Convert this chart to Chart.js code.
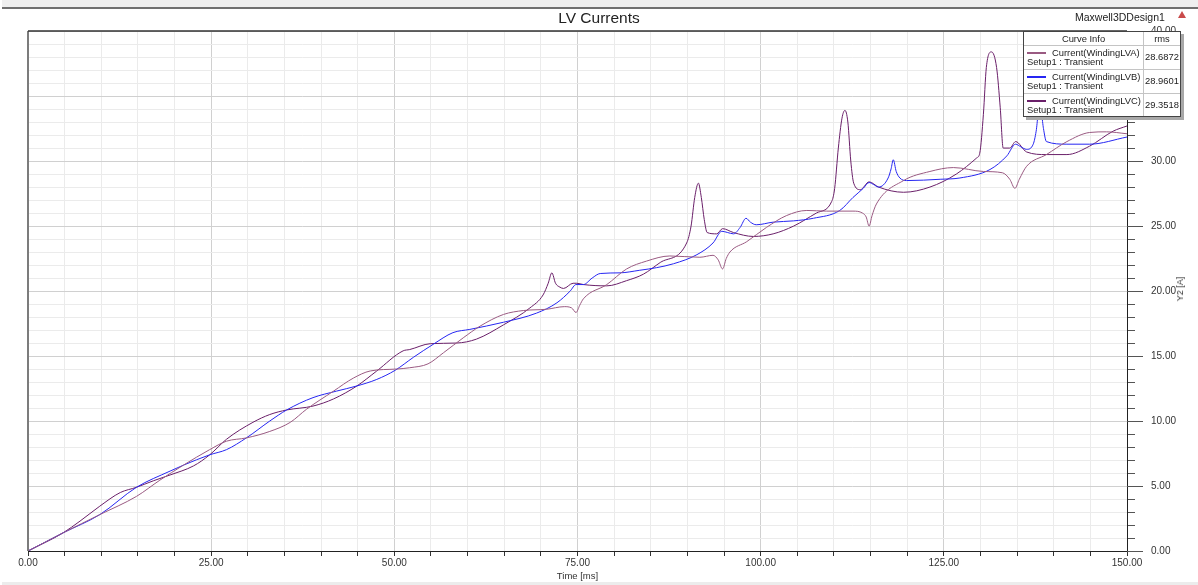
<!DOCTYPE html>
<html>
<head>
<meta charset="utf-8">
<title>LV Currents</title>
<script src="https://cdn.jsdelivr.net/npm/chart.js@4.4.1/dist/chart.umd.min.js"></script>
<style>
  body { margin: 0; background: #fff; font-family: "Liberation Sans", Arial, sans-serif; }
  #wrap { position: relative; width: 1198px; height: 585px; overflow: hidden; }
  #topbar { position: absolute; left: 2px; top: 0; width: 1196px; height: 7px; background: #efefef; border-bottom: 2px solid #707070; }
  #botbar { position: absolute; left: 2px; top: 582px; width: 1196px; height: 3px; background: #ececec; }
  #design { position: absolute; left: 1075px; top: 11px; font-size: 10.5px; line-height: 13px; color: #222; white-space: nowrap; }
  #tri { position: absolute; left: 1178px; top: 11px; width: 0; height: 0;
         border-left: 4px solid transparent; border-right: 4px solid transparent; border-bottom: 7px solid #c94a4a; }
  #ytitle { position: absolute; left: 1180px; top: 289px; font-size: 9px; color: #333; white-space: nowrap;
            transform: translate(-50%, -50%) rotate(-90deg); }
  #legend { position: absolute; left: 1023px; top: 31px; width: 158px; height: 86px; box-sizing: border-box;
            background: #fff; border: 1px solid #444; box-shadow: 3px 3px 0 #a8a8a8; font-size: 9.4px; color: #222; }
  #legend div { position: absolute; white-space: nowrap; }
  .hdr { top: 0; height: 13px; line-height: 13px; text-align: center; }
  .hline { left: 0; width: 156px; height: 1px; background: #c4c4c4; }
  .vline { left: 119px; top: 0; width: 1px; height: 84px; background: #c4c4c4; }
</style>
</head>
<body>
<div id="wrap">
  <canvas id="plot" width="1198" height="585"></canvas>
  <div id="topbar"></div>
  <div id="botbar"></div>
  <div id="design">Maxwell3DDesign1</div>
  <div id="tri"></div>
  <div id="ytitle">Y2 [A]</div>
  <div id="legend"></div>
</div>
<script>
const FONT = '"Liberation Sans", Arial, sans-serif';

// series names, colours and rms values shown in the curve info box
const seriesNames = ['Current(WindingLVA)', 'Current(WindingLVB)', 'Current(WindingLVC)'];
const seriesSetup = 'Setup1 : Transient';
const rmsValues = ['28.6872', '28.9601', '29.3518'];
const seriesColors = ['#9a5a82', '#2626f2', '#6a1f69'];

// time [ms] and current [A], one pair per winding
const timeA = [0, 4.8, 9.8, 14.8, 18.0, 21.2, 24.8, 27.1, 29.8, 33.0, 35.8, 38.0, 41.7, 44.4, 46.7, 50.3, 52.1, 54.6,
  56.7, 59.4, 61.7, 64.9, 67.6, 70.8, 73.2, 74.2, 74.8, 75.3, 75.8, 79.0, 81.7, 84.4, 87.6, 91.7, 93.5, 94.2, 94.8,
  95.3, 95.8, 98.1, 100.8, 103.5, 106.3, 109.0, 112.6, 113.9, 114.4, 114.8, 115.2, 115.8, 119.5, 123.1, 126.3,
  130.4, 133.0, 134.0, 134.7, 135.3, 136.3, 139.0, 141.8, 144.9, 147.2, 150];
const currentA = [0, 1.4, 2.8, 4.2, 5.45, 6.6, 7.8, 8.45, 8.7, 9.2, 9.9, 10.9, 12.3, 13.3, 13.85, 14.0, 14.1, 14.4,
  15.25, 16.4, 17.3, 18.2, 18.5, 18.6, 18.8, 18.7, 18.35, 18.9, 19.4, 20.5, 21.7, 22.3, 22.7, 22.6, 22.75, 22.4, 21.7,
  22.5, 23.0, 23.8, 24.9, 25.8, 26.2, 26.15, 26.15, 26.0, 25.7, 25.0, 25.8, 26.7, 28.5, 29.2, 29.5,
  29.2, 29.1, 28.6, 27.9, 28.6, 29.6, 30.5, 31.5, 32.2, 32.25, 32.1];

const timeB = [0, 4.8, 9.8, 14.8, 19.4, 21.2, 24.8, 27.1, 29.8, 33.0, 35.3, 38.9, 42.1, 44.9, 47.6, 50.1, 52.6, 55.3,
  58.0, 60.3, 64.9, 69.4, 72.2, 74.0, 74.8, 75.8, 77.0, 78.1, 80.8, 83.5, 85.8, 88.1, 91.3, 93.5, 94.7, 95.5, 96.3,
  97.2, 98.0, 98.6, 99.4, 101.7, 104.5, 107.2, 110.8, 112.6, 114.0, 114.8, 115.4, 116.1, 117.4, 117.8, 118.1,
  118.5, 119.0, 119.9, 124.5, 127.2, 131.3, 133.6, 134.8, 135.5, 136.3, 137.2, 137.6, 138.1, 138.6, 139.0,
  141.8, 144.9, 150];
const currentB = [0, 1.4, 2.8, 4.9, 6.15, 6.6, 7.4, 7.8, 8.7, 10.0, 10.85, 11.8, 12.3, 12.7, 13.2, 13.9, 14.9, 15.9,
  16.8, 17.05, 17.6, 18.3, 19.1, 20.0, 20.5, 20.5, 21.0, 21.35, 21.4, 21.6, 21.8, 22.1, 22.8, 23.7, 24.6, 24.5, 24.4,
  24.9, 25.6, 25.3, 25.1, 25.3, 25.4, 25.6, 26.2, 27.2, 27.9, 28.35, 28.2, 28.0, 28.7, 29.4, 30.1,
  29.2, 28.7, 28.5, 28.6, 28.7, 29.35, 30.4, 31.3, 31.1, 30.9, 31.3, 32.3, 34.5, 32.5, 31.5,
  31.3, 31.3, 31.85];

const timeC = [0, 4.8, 7.1, 9.8, 12.6, 14.8, 17.1, 19.4, 22.6, 24.8, 27.1, 30.7, 33.0, 35.3, 38.9, 41.7, 44.9, 47.6,
  51.2, 52.1, 54.9, 58.5, 61.2, 64.9, 68.5, 70.3, 71.0, 71.5, 72.0, 72.6, 73.1, 74.4, 74.9, 75.8, 79.0, 81.7, 84.0,
  86.3, 89.9, 90.5, 91.0, 91.5, 91.9, 92.3, 92.7, 94.0, 94.8, 96.3, 99.0, 101.7, 104.5, 107.6, 109.7, 110.1, 110.6,
  111.1, 111.5, 111.9, 112.3, 112.7, 113.6, 114.8, 116.1, 119.5, 123.1, 126.7, 129.5, 129.9, 130.4, 130.8, 131.5,
  132.2, 132.7, 133.1, 134.0, 134.8, 136.3, 139.0, 141.8, 144.9, 148.1, 150];
const currentC = [0, 1.4, 2.3, 3.45, 4.5, 4.9, 5.4, 5.85, 6.55, 7.4, 8.6, 9.9, 10.5, 10.85, 11.15, 11.7, 12.7, 13.85,
  15.4, 15.5, 15.95, 16.0, 16.3, 17.4, 18.7, 19.7, 20.6, 21.4, 20.6, 20.3, 20.2, 20.6, 20.6, 20.5, 20.4, 20.8, 21.3,
  22.2, 23.7, 25.0, 27.2, 28.3, 27.2, 25.5, 24.5, 24.4, 24.8, 24.5, 24.2, 24.4, 25.0, 26.0, 26.9, 27.9, 31.0,
  33.3, 33.9, 33.0, 30.0, 28.3, 27.8, 28.4, 28.0, 27.6, 28.0, 29.0, 30.25, 30.6, 33.6, 37.2, 38.4,
  37.2, 34.1, 31.0, 31.0, 31.5, 30.7, 30.5, 30.5, 31.15, 32.3, 32.7];

function toPoints(ts, vs) {
  return ts.map((t, i) => ({ x: t, y: vs[i] }));
}

// curve info box
const legendBox = document.getElementById('legend');
let html = '<div class="hdr" style="left:0;width:119px">Curve Info</div>' +
           '<div class="hdr" style="left:120px;width:36px">rms</div>' +
           '<div class="vline"></div>';
for (let i = 0; i < seriesNames.length; i++) {
  const top = 13 + 24 * i;
  html += '<div class="hline" style="top:' + top + 'px"></div>';
  html += '<div style="left:3px;top:' + (top + 7) + 'px;width:19px;height:2px;background:' + seriesColors[i] + '"></div>';
  html += '<div style="left:28px;top:' + (top + 2) + 'px;line-height:11px">' + seriesNames[i] + '</div>';
  html += '<div style="left:3px;top:' + (top + 11) + 'px;line-height:11px">' + seriesSetup + '</div>';
  html += '<div style="left:120px;width:36px;text-align:center;top:' + (top + 6) + 'px;line-height:11px">' + rmsValues[i] + '</div>';
}
legendBox.innerHTML = html;

// plot frame plus the longer ticks at labelled Y2 values
const frameLines = {
  id: 'frameLines',
  afterDraw(chart) {
    const { ctx, chartArea: a } = chart;
    const y = chart.scales.y;
    ctx.save();
    ctx.strokeStyle = '#7c7c7c';
    ctx.lineWidth = 2;
    ctx.beginPath();
    ctx.moveTo(a.left, a.bottom);
    ctx.lineTo(a.left, a.top);
    ctx.stroke();
    ctx.strokeStyle = '#333';
    ctx.lineWidth = 1.5;
    ctx.beginPath();
    ctx.moveTo(a.left, a.top);
    ctx.lineTo(a.right, a.top);
    ctx.stroke();
    ctx.strokeStyle = '#555';
    ctx.lineWidth = 1;
    for (let v = 0; v <= 40; v += 5) {
      const py = Math.round(y.getPixelForValue(v)) + 0.5;
      ctx.beginPath();
      ctx.moveTo(a.right, py);
      ctx.lineTo(a.right + 16, py);
      ctx.stroke();
    }
    ctx.restore();
  }
};

const ctx = document.getElementById('plot');

const config = {
  type: 'line',
  data: {
    datasets: [
      { label: seriesNames[0], data: toPoints(timeA, currentA), borderColor: seriesColors[0] },
      { label: seriesNames[1], data: toPoints(timeB, currentB), borderColor: seriesColors[1] },
      { label: seriesNames[2], data: toPoints(timeC, currentC), borderColor: seriesColors[2] }
    ]
  },
  options: {
    responsive: false,
    animation: false,
    devicePixelRatio: 1,
    layout: { padding: 0 },
    elements: {
      point: { radius: 0 },
      line: { borderWidth: 1, cubicInterpolationMode: 'monotone', fill: false }
    },
    plugins: {
      legend: { display: false },
      tooltip: { enabled: false },
      title: {
        display: true,
        text: 'LV Currents',
        color: '#222',
        font: { family: FONT, size: 15.5, weight: 'normal' },
        padding: { top: 9, bottom: 3.5 }
      }
    },
    scales: {
      x: {
        type: 'linear',
        position: 'bottom',
        min: 0,
        max: 150,
        afterFit: (scale) => { scale.height = 34; },
        ticks: {
          stepSize: 5,
          autoSkip: false,
          maxRotation: 0,
          maxTicksLimit: 100,
          padding: 1,
          color: '#333',
          font: { family: FONT, size: 10 },
          callback: (v) => (v % 25 === 0 ? v.toFixed(2) : '')
        },
        grid: {
          color: (c) => (c.tick && c.tick.value % 25 === 0 ? '#d0d0d0' : '#ebebeb'),
          tickColor: '#333',
          tickLength: 5
        },
        border: { color: '#222', width: 1 },
        title: {
          display: true,
          text: 'Time [ms]',
          color: '#333',
          font: { family: FONT, size: 9.5 },
          padding: { top: 0, bottom: 3 }
        }
      },
      // empty left strip so the plot starts 28 px in while the title stays centred on the page
      yl: {
        type: 'linear',
        position: 'left',
        min: 0,
        max: 40,
        afterFit: (scale) => { scale.width = 28; },
        ticks: { display: false },
        grid: { display: false, drawTicks: false },
        border: { display: false }
      },
      y: {
        type: 'linear',
        position: 'right',
        min: 0,
        max: 40,
        afterFit: (scale) => { scale.width = 71; },
        ticks: {
          stepSize: 1,
          autoSkip: false,
          maxTicksLimit: 100,
          padding: 16,
          color: '#333',
          font: { family: FONT, size: 10 },
          callback: (v) => (v % 5 === 0 ? v.toFixed(2) : '')
        },
        grid: {
          color: (c) => (c.tick && c.tick.value % 5 === 0 ? '#d0d0d0' : '#ebebeb'),
          tickColor: '#555',
          tickLength: 8
        },
        border: { color: '#222', width: 1 }
      }
    }
  },
  plugins: [frameLines]
};

const chart = new Chart(ctx, config);
</script>
</body>
</html>
